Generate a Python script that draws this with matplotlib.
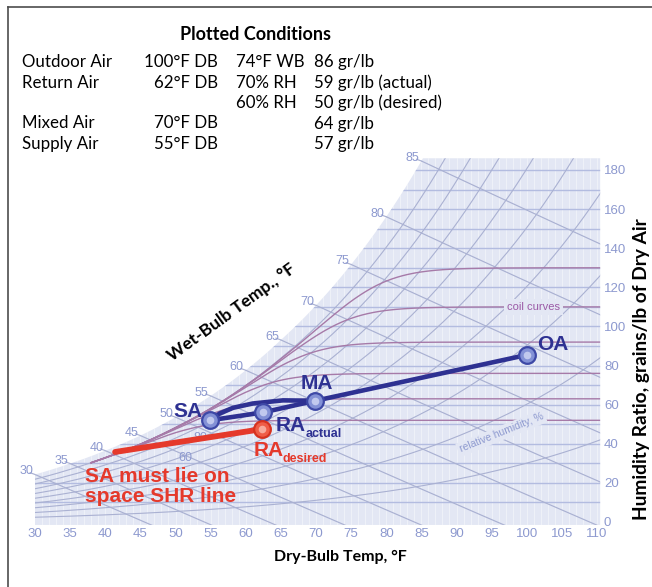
import numpy as np
import matplotlib
matplotlib.use("Agg")
import matplotlib.pyplot as plt
from matplotlib.patches import Polygon

# ---------------- data ----------------
SAT_TEMP_F = [30, 35, 40, 45, 50, 55, 60, 65, 70, 75, 80, 85, 90, 95, 100, 105, 110, 115]
SAT_GRAINS = [24.3, 29.9, 36.5, 44.2, 53.6, 64.5, 77.6, 93.1, 110.8, 131.7, 156.1, 184.6,
              218.0, 257.0, 301.0, 353.0, 414.0, 484.0]

WB_LABEL_TEMPS = [30, 35, 40, 45, 50, 55, 60, 65, 70, 75, 80, 85]
RH_LEVELS = [10, 20, 30, 40, 50, 60, 70, 80, 90]
COIL_LEVELS = [52, 63, 76, 92, 110, 130]
GRID_GRAINS = [10, 20, 30, 40, 50, 60, 70, 80, 90, 100, 110, 120, 130, 140, 150, 160, 170, 180]

X_TICKS = [30, 35, 40, 45, 50, 55, 60, 65, 70, 75, 80, 85, 90, 95, 100, 105, 110]
Y_TICKS = [0, 20, 40, 60, 80, 100, 120, 140, 160, 180]

# plotted states (as drawn in the picture)
POINT_NAMES = ["SA", "RA", "MA", "OA"]
POINT_DB = [54.9, 62.4, 69.9, 100.1]
POINT_GR = [52.0, 56.0, 62.0, 85.5]
RA_DES_DB = 62.3
RA_DES_GR = 47.5
SHR_LINE_DB = [41.4, 62.3]
SHR_LINE_GR = [35.8, 47.5]
COIL_PATH_DB = [54.9, 56.3, 58.2, 61.0, 65.3, 69.9]
COIL_PATH_GR = [52.0, 55.5, 58.4, 60.6, 62.2, 62.0]

# table of plotted conditions
ROW_NAMES = ["Outdoor Air", "Return Air", "", "Mixed Air", "Supply Air"]
ROW_DB = ["100°F DB", "62°F DB", "", "70°F DB", "55°F DB"]
ROW_WB_RH = ["74°F WB", "70% RH", "60% RH", "", ""]
ROW_GR = ["86 gr/lb", "59 gr/lb (actual)", "50 gr/lb (desired)", "64 gr/lb", "57 gr/lb"]

# ---------------- helpers ----------------
W, H = 652, 587
def fx(x):
    return x / W
def fy(y):
    return 1 - y / H

_lt = np.array(SAT_TEMP_F, float)
_lg = np.log(np.array(SAT_GRAINS, float))
def ws(t):
    return np.exp(np.interp(t, _lt, _lg))

BG = "#e3e7f4"
GRID_C = "#b3bce0"
DIAG_C = "#aab1d2"
COIL_C = "#a67aa8"
LABEL_C = "#8d99cf"
NAVY = "#2e3192"
RED = "#e5392b"

fig = plt.figure(figsize=(6.52, 5.87), dpi=100)
fig.patch.set_facecolor("white")
ax = fig.add_axes([35 / W, 65 / H, 562 / W, 352 / H])
ax.set_xlim(30, 110)
ax.set_ylim(0, 180)
ax.patch.set_visible(False)
for s in ax.spines.values():
    s.set_visible(False)

# shaded chart region
TOP = 186.0
tt = np.linspace(30, 110, 800)
wsat = ws(tt)
m = wsat <= TOP
poly_pts = [(30, -1.5)] + list(zip(tt[m], wsat[m]))
t_top = np.interp(TOP, wsat, tt)
poly_pts += [(t_top, TOP), (110.45, TOP), (110.45, -1.5)]
shade = Polygon(poly_pts, closed=True, facecolor=BG, edgecolor="none", clip_on=False, zorder=0)
ax.add_patch(shade)

# fine vertical dry-bulb lines
for t in range(31, 111):
    ax.plot([t, t], [-2, TOP], color="white", lw=0.6, alpha=0.5, clip_path=shade, zorder=1)

# horizontal humidity-ratio grid
for g in GRID_GRAINS:
    ax.plot([25, 110.45], [g, g], color=GRID_C, lw=1.0, clip_path=shade, zorder=2)

# relative humidity curves
tr = np.linspace(30, 112, 400)
for rh in RH_LEVELS:
    ax.plot(tr, rh / 100 * ws(tr), color=DIAG_C, lw=0.8, clip_path=shade, zorder=2)

# wet-bulb lines
for twb in WB_LABEL_TEMPS:
    wsw = ws(twb) / 7000.0
    t = np.linspace(twb, 130, 300)
    w = ((1093 - 0.556 * twb) * wsw - 0.240 * (t - twb)) / (1093 + 0.444 * t - twb) * 7000
    ax.plot(t, w, color=DIAG_C, lw=0.85, clip_path=shade, zorder=2)
    ax.plot([twb - 0.7, twb], [ws(twb) + 0.9, ws(twb)], color=DIAG_C, lw=0.85, clip_on=False, zorder=2)
    ax.annotate(str(twb), xy=(twb, ws(twb)), xytext=(-2, 3), textcoords="offset pixels",
                ha="right", va="center", fontsize=9, color=LABEL_C,
                family="Liberation Sans", annotation_clip=False, zorder=3)

# RH labels along curves (partly hidden)
for lab_txt, tlab, wlab in [("80", 53.5, 43.0), ("60", 51.4, 32.5)]:
    ax.text(tlab, wlab, lab_txt, ha="center", va="center", fontsize=9, color=LABEL_C,
            family="Liberation Sans", zorder=3)

# coil curves
tc = np.linspace(38, 112, 400)
for lvl in COIL_LEVELS:
    a = 0.9 * ws(tc)
    w = (a ** -8.0 + lvl ** -8.0) ** (-1 / 8.0)
    ax.plot(tc, w, color=COIL_C, lw=1.0, clip_path=shade, zorder=2)

ax.text(101.0, 110, "coil curves", ha="center", va="center", fontsize=8, color="#9b5aa6",
        family="Liberation Sans", zorder=4,
        bbox=dict(boxstyle="square,pad=0.25", facecolor=BG, edgecolor="none"))
ax.text(96.4, 45.5, "relative humidity, %", ha="center", va="center", fontsize=7.5,
        color=LABEL_C, rotation=22, family="Liberation Sans", zorder=4,
        bbox=dict(boxstyle="square,pad=0.2", facecolor=BG, edgecolor="none"))

# ticks
ax.set_xticks(X_TICKS)
ax.set_yticks(Y_TICKS)
ax.yaxis.tick_right()
ax.tick_params(axis="x", length=0, pad=4.5, labelsize=9.5, labelcolor=LABEL_C)
ax.tick_params(axis="y", length=0, pad=5, labelsize=9.5, labelcolor=LABEL_C)
for tl in ax.get_xticklabels() + ax.get_yticklabels():
    tl.set_family("Liberation Sans")

# ---------------- process lines ----------------
ax.plot(SHR_LINE_DB, SHR_LINE_GR, color=RED, lw=4.2, solid_capstyle="round", zorder=6)
ax.plot(COIL_PATH_DB, COIL_PATH_GR, color=NAVY, lw=3.3, solid_capstyle="round", zorder=6)
ax.plot(POINT_DB, POINT_GR, color=NAVY, lw=3.3, solid_capstyle="round",
        solid_joinstyle="round", zorder=6)

ax.plot(POINT_DB, POINT_GR, "o", ms=12, mfc="#8391d6", mec="#3d48a6", mew=1.6, zorder=7)
ax.plot(POINT_DB, POINT_GR, "o", ms=5.5, mfc="#c9d0f1", mec="none", alpha=0.9, zorder=8)
ax.plot([RA_DES_DB], [RA_DES_GR], "o", ms=12, mfc="#ef5d47", mec="#d6321f", mew=1.6, zorder=7)
ax.plot([RA_DES_DB], [RA_DES_GR], "o", ms=5.5, mfc="#f9b3a6", mec="none", alpha=0.9, zorder=8)

bold = dict(family="Liberation Sans", fontweight="bold")
def lab(txt, xy, off, size, color):
    ax.annotate(txt, xy=xy, xytext=off, textcoords="offset pixels", ha="center",
                va="center", fontsize=size, color=color, annotation_clip=False,
                zorder=9, **bold)

lab("SA", (POINT_DB[0], POINT_GR[0]), (-22, 9), 15, NAVY)
lab("MA", (POINT_DB[2], POINT_GR[2]), (2, 17), 15, NAVY)
lab("OA", (POINT_DB[3], POINT_GR[3]), (25, 10), 15, NAVY)
lab("RA", (POINT_DB[1], POINT_GR[1]), (28, -13), 15, NAVY)
lab("actual", (POINT_DB[1], POINT_GR[1]), (61, -22), 9, NAVY)
lab("RA", (RA_DES_DB, RA_DES_GR), (7, -21), 15, RED)
lab("desired", (RA_DES_DB, RA_DES_GR), (43, -30), 9, RED)

fig.text(fx(85), fy(477), "SA must lie on", ha="left", va="center", fontsize=15,
         color=RED, **bold)
fig.text(fx(85), fy(497), "space SHR line", ha="left", va="center", fontsize=15,
         color=RED, **bold)

# axis titles
fig.text(fx(232), fy(312), "Wet-Bulb Temp., °F", rotation=36, ha="center", va="center",
         fontsize=12.5, color="black", family="Lato", fontweight="bold")
fig.text(fx(340), fy(557), "Dry-Bulb Temp, °F", ha="center", va="center",
         fontsize=11.5, color="black", family="Lato", fontweight="bold")
fig.text(fx(641), fy(369), "Humidity Ratio, grains/lb of Dry Air", rotation=90,
         ha="center", va="center", fontsize=13.8, color="black", family="Lato",
         fontweight="bold")

# table
fig.text(fx(255), fy(35), "Plotted Conditions", ha="center", va="center", fontsize=13,
         family="Lato", fontweight="bold", color="black")
for i in range(len(ROW_NAMES)):
    yy = fy(62 + 20.5 * i)
    fig.text(fx(22), yy, ROW_NAMES[i], ha="left", va="center", fontsize=12.2, family="Lato")
    fig.text(fx(218), yy, ROW_DB[i], ha="right", va="center", fontsize=12.2, family="Lato")
    fig.text(fx(236), yy, ROW_WB_RH[i], ha="left", va="center", fontsize=12.2, family="Lato")
    fig.text(fx(314), yy, ROW_GR[i], ha="left", va="center", fontsize=12.2, family="Lato")

# frame
fig.add_artist(plt.Line2D([fx(8), 1.0], [fy(7), fy(7)], color="#4d4d4d", lw=1.2))
fig.add_artist(plt.Line2D([fx(8), fx(8)], [fy(7), 0.0], color="#4d4d4d", lw=1.2))

fig.savefig("out.png", dpi=100)
